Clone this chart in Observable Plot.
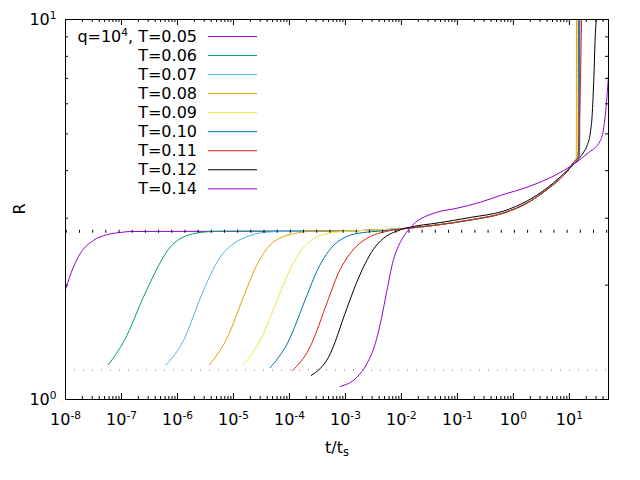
<!DOCTYPE html>
<html>
<head>
<meta charset="utf-8">
<script src="https://cdn.jsdelivr.net/npm/d3@7"></script>
<script src="https://cdn.jsdelivr.net/npm/@observablehq/plot@0.6"></script>
<style>
  html, body { margin: 0; padding: 0; background: #fff; }
  #chart { width: 640px; height: 480px; }
</style>
</head>
<body>
<div id="chart"></div>
<script>
// ---------- data ----------
const qExp = 4;
const seriesT = ["0.05", "0.06", "0.07", "0.08", "0.09", "0.10", "0.11", "0.12", "0.14"];
const seriesColors = ["#9400d3", "#009e73", "#56b4e9", "#e69f00", "#f0e442", "#0072b2", "#e51e10", "#000000", "#9400d3"];

// horizontal reference levels
const upperLevel = 2.773;
const lowerLevel = 1.197;

// tick values
const xTickExps = [-8, -7, -6, -5, -4, -3, -2, -1, 0, 1];
const yTickExps = [0, 1];
const minorMultipliers = [2, 3, 4, 5, 6, 7, 8, 9];

// early (rise) part of each run
const tT05 = [1e-8, 1.38e-8, 1.82e-8, 3.14e-8, 5.45e-8, 9.42e-8, 1.53e-7];
const rT05 = [1.95, 2.229, 2.417, 2.621, 2.713, 2.751, 2.768];

const tT06 = [5.82e-8, 1.125e-7, 2.46e-7, 3.98e-7, 5.53e-7, 7.38e-7, 1.11e-6, 1.93e-6, 3.83e-6, 7.62e-6];
const rT06 = [1.234, 1.430, 1.858, 2.159, 2.364, 2.516, 2.648, 2.730, 2.765, 2.772];

const tT07 = [6.26e-7, 1.28e-6, 2.54e-6, 3.83e-6, 5.78e-6, 1.0e-5, 1.99e-5, 3.95e-5, 1.03e-4];
const rT07 = [1.234, 1.430, 1.844, 2.120, 2.369, 2.570, 2.702, 2.756, 2.772];

const tT08 = [3.72e-6, 7.31e-6, 1.62e-5, 2.44e-5, 3.44e-5, 4.52e-5, 6.83e-5, 1.18e-4, 2.69e-4];
const rT08 = [1.234, 1.430, 1.912, 2.212, 2.422, 2.551, 2.661, 2.730, 2.772];

const tT09 = [1.51e-5, 3.0e-5, 6.83e-5, 1.07e-4, 1.62e-4, 2.69e-4, 5.35e-4, 1.06e-3];
const rT09 = [1.234, 1.430, 1.912, 2.229, 2.466, 2.648, 2.740, 2.772];

const tT10 = [4.52e-5, 9.11e-5, 2.05e-4, 3.13e-4, 4.54e-4, 6.57e-4, 1.06e-3, 2.11e-3, 4.19e-3];
const rT10 = [1.212, 1.402, 1.878, 2.185, 2.407, 2.567, 2.685, 2.751, 2.775];

const tT11 = [1.14e-4, 2.25e-4, 4.93e-4, 7.43e-4, 1.077e-3, 1.56e-3, 2.77e-3, 5.52e-3];
const rT11 = [1.192, 1.360, 1.833, 2.146, 2.364, 2.527, 2.685, 2.771];

// common late branch shared by T=0.05 ... 0.11
const tBundle = [8.07e-4, 2.77e-3, 1.44e-2, 4.32e-2, 0.170, 0.670, 1.756, 4.0, 9.11, 12.8];
const rBundle = [2.775, 2.79, 2.827, 2.879, 2.968, 3.096, 3.289, 3.570, 3.981, 4.256];

// final blow-up of each run
const tBlow05 = [14.3, 14.5];  const rBlow05 = [4.33, 12];
const tBlow06 = [14.8, 15.0];  const rBlow06 = [4.37, 12];
const tBlow07 = [15.2, 15.3];  const rBlow07 = [4.40, 12];
const tBlow08 = [13.3, 13.4];  const rBlow08 = [4.29, 12];
const tBlow09 = [13.8, 14.0];  const rBlow09 = [4.31, 12];
const tBlow10 = [15.2, 15.4];  const rBlow10 = [4.40, 12];
const tBlow11 = [14.1, 16.9];  const rBlow11 = [4.30, 12];

// T=0.12 (complete run)
const tT12 = [2.45e-4, 4.99e-4, 1.06e-3, 1.56e-3, 2.26e-3, 3.14e-3, 4.74e-3, 8.33e-3, 1.44e-2, 4.32e-2, 0.170, 0.670, 1.756, 4.0, 9.11, 14.7, 18.0, 20.7, 23.8, 25.5, 27.2, 29.2, 30.4];
const rT12 = [1.157, 1.292, 1.736, 2.020, 2.280, 2.481, 2.653, 2.776, 2.841, 2.913, 3.013, 3.133, 3.330, 3.603, 4.005, 4.299, 4.475, 4.660, 5.051, 5.589, 6.839, 9.26, 10.06];

// T=0.14 (complete run)
const tT14 = [8.07e-4, 1.61e-3, 2.42e-3, 3.41e-3, 4.19e-3, 5.52e-3, 7.15e-3, 8.79e-3, 1.08e-2, 1.33e-2, 1.77e-2, 2.67e-2, 4.32e-2, 9.84e-2, 0.257, 0.585, 2.01, 7.92, 20.7, 35.9, 41.1, 45.9, 50];
const rT14 = [1.082, 1.145, 1.242, 1.402, 1.582, 1.936, 2.322, 2.527, 2.677, 2.793, 2.922, 3.030, 3.111, 3.187, 3.305, 3.443, 3.646, 4.005, 4.432, 4.804, 5.197, 6.009, 7.12];

// ---------- build tables ----------
function pts(ts, rs) { return ts.map((t, j) => ({t, R: rs[j]})); }
function run(tEarly, rEarly, tBlow, rBlow) {
  const early = pts(tEarly, rEarly);
  const last = tEarly[tEarly.length - 1];
  const mid = pts(tBundle, rBundle).filter(d => d.t > last);
  return early.concat(mid, pts(tBlow, rBlow));
}
const runs = [
  run(tT05, rT05, tBlow05, rBlow05),
  run(tT06, rT06, tBlow06, rBlow06),
  run(tT07, rT07, tBlow07, rBlow07),
  run(tT08, rT08, tBlow08, rBlow08),
  run(tT09, rT09, tBlow09, rBlow09),
  run(tT10, rT10, tBlow10, rBlow10),
  run(tT11, rT11, tBlow11, rBlow11),
  pts(tT12, rT12),
  pts(tT14, rT14)
];

const xMajor = xTickExps.map(e => 10 ** e);
const xMinor = xTickExps.flatMap(e => minorMultipliers.map(k => k * 10 ** e)).filter(v => v <= 50);
const yMajor = yTickExps.map(e => 10 ** e);
const yMinor = minorMultipliers.slice();

const W = 640, H = 480, mL = 65, mR = 32, mT = 19, mB = 81;
const plotW = W - mL - mR, plotH = H - mT - mB;
const majorLen = 6, minorLen = 3;

const expFormat = d => `10^${Math.round(Math.log10(d))}`;

const chart = Plot.plot({
  width: W, height: H,
  marginLeft: mL, marginRight: mR, marginTop: mT, marginBottom: mB,
  style: {fontFamily: "'DejaVu Sans', sans-serif", fontSize: "16px", background: "#fff", color: "#000"},
  x: {type: "log", domain: [1e-8, 50]},
  y: {type: "log", domain: [1, 10]},
  marks: [
    ...runs.map((data, i) => Plot.line(data, {x: "t", y: "R", stroke: seriesColors[i], strokeWidth: 1, curve: "monotone-x", clip: true})),
    Plot.ruleY([upperLevel], {stroke: "#000", strokeWidth: 3, strokeDasharray: "1,12.18", strokeDashoffset: -0.8}),
    Plot.ruleY([lowerLevel], {stroke: "#808080", strokeWidth: 1, strokeDasharray: "1,8"}),
    // inward ticks on all four sides
    Plot.tickX(xMajor, {x: d => d, insetTop: plotH - majorLen, stroke: "#000"}),
    Plot.tickX(xMajor, {x: d => d, insetBottom: plotH - majorLen, stroke: "#000"}),
    Plot.tickX(xMinor, {x: d => d, insetTop: plotH - minorLen, stroke: "#000"}),
    Plot.tickX(xMinor, {x: d => d, insetBottom: plotH - minorLen, stroke: "#000"}),
    Plot.tickY(yMinor, {y: d => d, insetRight: plotW - minorLen, stroke: "#000"}),
    Plot.tickY(yMinor, {y: d => d, insetLeft: plotW - minorLen, stroke: "#000"}),
    Plot.axisX({ticks: xMajor, tickSize: 0, tickPadding: 14, tickFormat: expFormat, label: null, fontSize: 16}),
    Plot.axisY({ticks: yMajor, tickSize: 0, tickPadding: 9, tickFormat: expFormat, label: null, fontSize: 16}),
    Plot.frame({stroke: "#000", strokeWidth: 1})
  ]
});

const svg = d3.select(chart);

// legend (inside the plot, top-left)
const lg = svg.append("g").attr("font-size", 16).attr("fill", "#000");
seriesT.forEach((T, i) => {
  const y = 36 + i * 19.04;
  lg.append("text")
    .attr("x", 197).attr("y", y).attr("dy", "0.36em").attr("text-anchor", "end")
    .text(i === 0 ? `q=10^${qExp}, T=${T}` : `T=${T}`);
  lg.append("line")
    .attr("x1", 208).attr("x2", 257).attr("y1", y + 0.5).attr("y2", y + 0.5)
    .attr("stroke", seriesColors[i]).attr("stroke-width", 1);
});

// axis titles
const xt = svg.append("text").attr("x", 337).attr("y", 452.5).attr("text-anchor", "middle").attr("font-size", 16);
xt.append("tspan").text("t/t");
xt.append("tspan").attr("dy", 3.5).attr("font-size", "0.72em").text("s");
svg.append("text").attr("transform", "translate(24.5,209) rotate(-90)").attr("text-anchor", "middle").attr("font-size", 16).text("R");

// superscripts for "a^b" texts
svg.selectAll("text").each(function () {
  const s = this.textContent;
  const m = s.match(/^(.*?)\^(-?\d+)(.*)$/);
  if (!m) return;
  const el = d3.select(this);
  el.text(null);
  el.append("tspan").text(m[1]);
  el.append("tspan").attr("dy", -6).attr("font-size", "0.66em").text(m[2]);
  if (m[3]) el.append("tspan").attr("dy", 6).text(m[3]);
});

document.getElementById("chart").appendChild(chart);
</script>
</body>
</html>
